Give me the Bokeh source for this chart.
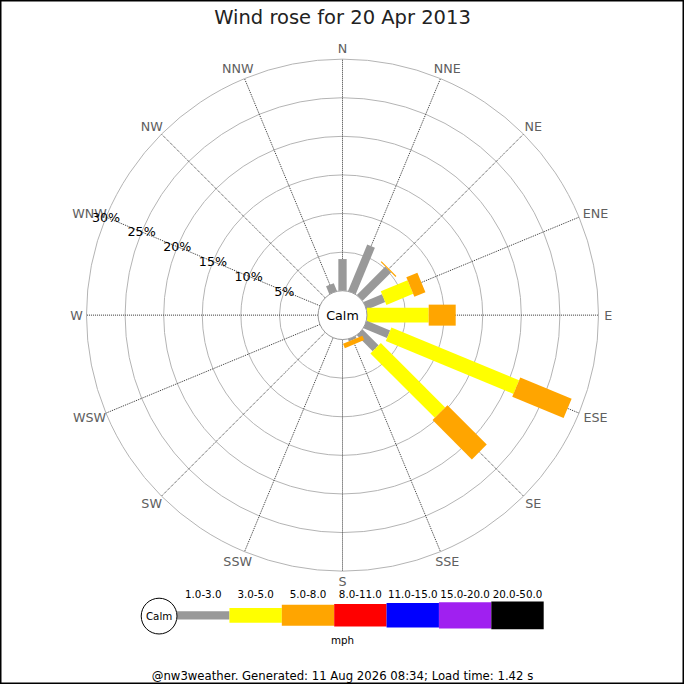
import numpy as np
from bokeh.plotting import figure
from bokeh.models import Range1d
from bokeh.core.properties import value
from bokeh.embed import file_html
from bokeh.resources import INLINE

# wind rose data (percent of time per direction and speed band)
directions = ["N", "NNE", "NE", "ENE", "E", "ESE", "SE", "SSE",
              "S", "SSW", "SW", "WSW", "W", "WNW", "NW", "NNW"]
speed_bins = ["1.0-3.0", "3.0-5.0", "5.0-8.0", "8.0-11.0",
              "11.0-15.0", "15.0-20.0", "20.0-50.0"]
bin_colors = ["#999999", "#ffff00", "#ffa500", "#ff0000",
              "#0000ff", "#a020f0", "#000000"]
freq_1_3 = [4.1, 6.5, 5.2, 2.6, 0.0, 3.3, 2.9, 0.3, 0, 0, 0, 0, 0, 0, 0, 1.1]
freq_3_5 = [0, 0, 0, 3.75, 8.0, 17.9, 11.8, 0, 0, 0, 0, 0, 0, 0, 0, 0]
freq_5_8 = [0, 0, 0.15, 1.55, 3.5, 7.2, 7.2, 0.6, 0, 0, 0, 0, 0, 0, 0, 0]
ring_pcts = [5, 10, 15, 20, 25, 30]
title_text = "Wind rose for 20 Apr 2013"
units_text = "mph"
footer_text = "@nw3weather. Generated: 11 Aug 2026 08:34; Load time: 1.42 s"

SIZE = 684
S = SIZE / 700.0
FONT = value("DejaVu Sans")


def fs(px):
    return "%.1fpx" % (px * S)


CX, CY = 350.0, 378.0
R_CALM = 25.0
PX_PER_PCT = 7.9
bar_widths = [8.5, 15, 21.5, 23, 25, 27, 28.3]

p = figure(width=SIZE, height=SIZE, x_range=Range1d(0, 700), y_range=Range1d(0, 700),
           output_backend="svg", toolbar_location=None, min_border=0)
p.axis.visible = False
p.grid.visible = False
p.outline_line_color = "black"
p.outline_line_width = 2
p.background_fill_color = "white"

theta = np.radians(np.arange(16) * 22.5)
ux, uy = np.sin(theta), np.cos(theta)

# rings
radii = [R_CALM + PX_PER_PCT * r for r in ring_pcts]
p.circle(x=[CX] * len(radii), y=[CY] * len(radii), radius=radii,
         fill_color=None, line_color="#b4b4b4", line_width=1)

# spokes
r_out = radii[-1]
p.segment(x0=CX + ux * R_CALM, y0=CY + uy * R_CALM, x1=CX + ux * r_out, y1=CY + uy * r_out,
          line_color="#333333", line_width=1, line_dash="1 1")

# bars
xs, ys, cols = [], [], []
for i in range(16):
    r0 = R_CALM
    for b, freq in enumerate([freq_1_3, freq_3_5, freq_5_8]):
        f = freq[i]
        if f <= 0:
            continue
        r1 = r0 + f * PX_PER_PCT
        h = bar_widths[b] / 2.0
        vx, vy = uy[i], -ux[i]
        xs.append([CX + ux[i] * r0 + vx * h, CX + ux[i] * r1 + vx * h,
                   CX + ux[i] * r1 - vx * h, CX + ux[i] * r0 - vx * h])
        ys.append([CY + uy[i] * r0 + vy * h, CY + uy[i] * r1 + vy * h,
                   CY + uy[i] * r1 - vy * h, CY + uy[i] * r0 - vy * h])
        cols.append(bin_colors[b])
        r0 = r1
p.patches(xs, ys, fill_color=cols, line_color=None)

# calm circle
p.circle(x=[CX], y=[CY], radius=R_CALM, fill_color="white", line_color="#999999", line_width=1)
p.text(x=[CX], y=[CY], text=["Calm"], text_align="center", text_baseline="middle",
       text_font=FONT, text_font_size=fs(13), text_color="black")

# direction labels
lx, ly = [], []
for i, d in enumerate(directions):
    w = 8.2 * len(d)
    lx.append(CX + ux[i] * 266 + ux[i] * (w / 2 + 2))
    ly.append(CY + uy[i] * 266 + uy[i] * 7)
p.text(x=lx, y=ly, text=directions, text_align="center", text_baseline="middle",
       text_font=FONT, text_font_size=fs(13), text_color="#606060")

# percent labels along WNW
k = directions.index("WNW")
p.text(x=[CX + ux[k] * r for r in radii], y=[CY + uy[k] * r for r in radii],
       text=["%d%%" % r for r in ring_pcts], text_align="center", text_baseline="middle",
       text_font=FONT, text_font_size=fs(13), text_color="black")

# title
p.text(x=[350], y=[700 - 17], text=[title_text], text_align="center", text_baseline="middle",
       text_font=FONT, text_font_size=fs(20), text_color="#222222")

# legend
leg_y = 700 - 629.2
seg_w = 53.6
left = [180.7 + j * seg_w for j in range(len(speed_bins))]
right = [l + seg_w for l in left]
p.quad(left=left, right=right,
       top=[leg_y + w / 2 for w in bar_widths], bottom=[leg_y - w / 2 for w in bar_widths],
       fill_color=bin_colors, line_color=None)
p.circle(x=[162.3], y=[700 - 630], radius=18.3, fill_color="white", line_color="black", line_width=1)
p.text(x=[162.3], y=[700 - 630], text=["Calm"], text_align="center", text_baseline="middle",
       text_font=FONT, text_font_size=fs(10.5), text_color="black")
p.text(x=[(l + r) / 2 for l, r in zip(left, right)], y=[700 - 607] * len(speed_bins), text=speed_bins,
       text_align="center", text_baseline="middle", text_font=FONT, text_font_size=fs(10.5),
       text_color="black")
p.text(x=[350], y=[700 - 654], text=[units_text], text_align="center", text_baseline="middle",
       text_font=FONT, text_font_size=fs(10.5), text_color="black")

# footer
p.text(x=[350], y=[700 - 691], text=[footer_text], text_align="center", text_baseline="middle",
       text_font=FONT, text_font_size=fs(12), text_color="black")

open("out.html", "w").write(file_html(p, INLINE))
